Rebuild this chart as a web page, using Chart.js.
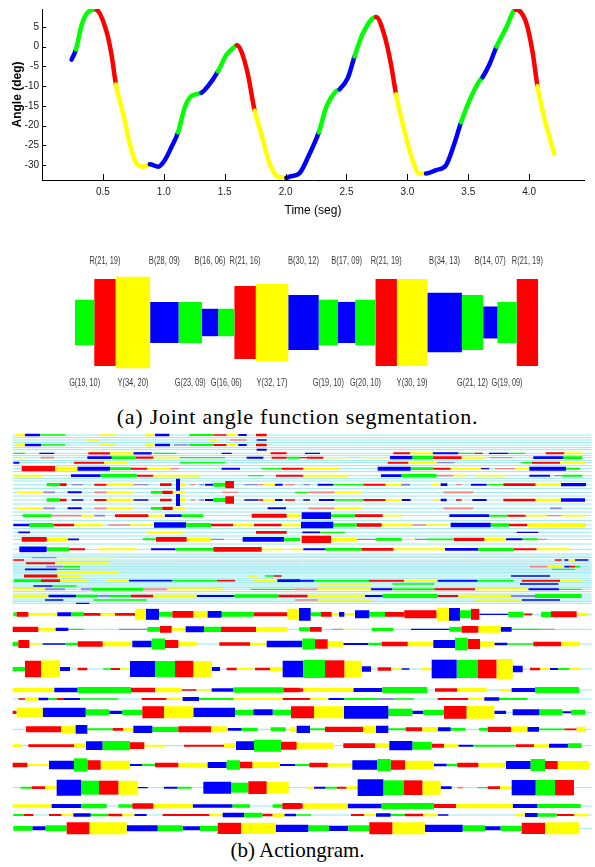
<!DOCTYPE html>
<html><head><meta charset="utf-8">
<script src="https://cdn.jsdelivr.net/npm/chart.js@4.4.1/dist/chart.umd.min.js"></script>
<style>
html,body{margin:0;padding:0;background:#fff;}
body{width:595px;height:867px;position:relative;overflow:hidden;}
canvas{position:absolute;left:0;}
#c1{top:0;} #c2{top:250px;} #c3{top:425px;}
.cap{position:absolute;left:0;width:595px;text-align:center;font-family:'Liberation Serif','Times New Roman',serif;font-size:21px;line-height:24px;color:#000;white-space:nowrap;}
</style></head><body>
<canvas id="c1" width="595" height="222"></canvas>
<canvas id="c2" width="595" height="150"></canvas>
<div class="cap" style="top:405px;font-size:22px;letter-spacing:0.75px">(a) Joint angle function segmentation.</div>
<canvas id="c3" width="595" height="412"></canvas>
<div class="cap" style="top:838px">(b) Actiongram.</div>
<script>
// ---------- (a) joint angle curve ----------
const timeSec = [0.243,0.279,0.325,0.366,0.434,0.45,0.53,0.571,0.607,0.667,0.721,0.776,0.83,0.885,0.954,1.008,1.063,1.117,1.172,1.227,1.309,1.363,1.445,1.514,1.582,1.6,1.637,1.691,1.746,1.8,1.869,1.937,2.006,2.033,2.115,2.197,2.273,2.333,2.415,2.443,2.511,2.566,2.634,2.743,2.811,2.866,2.907,2.975,3.043,3.098,3.153,3.235,3.317,3.385,3.44,3.508,3.59,3.617,3.672,3.732,3.809,3.89,3.973,4.027,4.068,4.123,4.205];
const angleDeg = [-3.3,-0.7,5.4,8.3,9.4,9.3,3.75,-2.1,-9.6,-17.1,-24.6,-29.6,-30.4,-29.75,-30.4,-28.75,-25.4,-21.7,-15.4,-12.5,-11.7,-10,-6.25,-2.1,0,0.3,-1.25,-7.1,-16.25,-22,-29.6,-32.9,-33.2,-32.9,-32,-27.1,-21.7,-15.4,-11.25,-10.8,-7.9,-2.5,3.3,7.5,2.9,-4.6,-12.1,-21.25,-28.75,-32.1,-32.1,-31.25,-30,-24.6,-19.2,-13.75,-8.75,-7.75,-4.6,0,4.6,9.4,6.25,-1.25,-10,-17.9,-27.1];
const angleSegClass = 'bggggrrryyyyybbbbgggbbgggrrryyyybbbbgggbbggrrryyyybbbbgggbbggrrryyy'.split('');
const xTickValues = [0.5,1,1.5,2,2.5,3,3.5,4];
const yTickValues = [-30,-25,-20,-15,-10,-5,0,5];

// ---------- (a) segmentation glyphs ----------
const segClass = ['G','R','Y','B','G','B','G','R','Y','B','G','B','G','R','Y','B','G','B','G','R'];
const segLength = [19,21,34,28,23,16,16,21,32,30,19,17,20,21,30,34,21,14,19,21];
const segAmplitude = [10,19,20,9,9,6,6,16,17,12,10,9,10,19,19,13,12,7,9,19];

// ---------- (b) actiongram: "row | first half | second half", segments "class start end amplitude" ----------
const HALF = 885;
const rowsUpper = [
"30|y 48 75 8, b 75 120 8, g 120 195 4, y 300 345 4, y 435 462 8, b 465 508 8, g 568 640 6, r 640 680 4, y 680 712 6, b 715 740 6, r 768 800 8|",
"45|y 258 300 4, y 625 660 4, p 690 740 4, b 770 800 5|",
"60|y 48 75 8, b 75 123 8, g 123 195 4, y 300 345 4, y 437 462 8, b 465 510 8, v 522 565 4, g 568 640 6, r 640 680 6, y 680 712 6, b 715 740 6, r 768 800 8|",
"74|y 258 300 4, b 770 800 6|",
"85|g 40 75 4, b 118 163 4, r 265 330 7, y 330 400 7, b 400 455 7, g 460 530 4, b 665 695 4, y 770 810 4, r 812 860 6|b 30 75 4, r 295 345 6, y 345 413 6, b 413 490 6, g 490 540 4, r 540 563 4, b 582 640 4, g 640 690 4, r 752 808 6, y 808 862 6",
"98|y 40 85 4, p 122 162 5, b 262 335 8, g 335 408 8, r 408 460 7, y 460 540 5, g 540 675 4, b 740 790 6, r 815 860 6, g 860 900 6|r 0 35 4, r 35 85 6, y 85 160 4, y 200 285 4, b 285 352 10, g 352 413 10, r 413 500 8, y 500 568 6, p 585 652 4, b 715 805 8, g 805 862 8",
"113|b 40 58 6, r 222 312 6, y 312 383 6, g 540 675 4|r 278 340 6, y 340 425 6, v 425 478 4, g 678 710 4, r 710 795 6, y 795 870 6",
"131|r 65 165 16, y 165 232 12, b 232 330 12, g 330 393 8, r 393 442 6, y 442 510 6, p 510 538 4, b 665 720 6, g 785 845 4, r 845 900 6|r 0 25 6, y 25 133 6, b 248 347 12, g 347 417 8, r 417 467 6, y 467 558 6, b 558 582 4, p 600 660 4, y 660 703 6, b 703 813 12, g 813 855 6",
"152|y 40 128 6, b 213 302 8, g 302 410 10, r 410 460 6, y 460 600 6, g 745 790 4, r 828 900 6|r 0 25 6, y 25 160 6, b 258 320 8, g 320 425 10, p 425 475 5, y 475 512 5, y 543 630 5, b 703 765 6, v 778 800 4, g 800 862 6"
];
const rowsMiddle = [
"179|g 140 180 10, r 180 200 8, v 215 250 4, r 283 320 6, y 320 400 8, v 400 445 4, r 480 515 8, b 528 540 36, y 540 555 10, p 572 585 4, v 598 612 4, b 615 640 6, g 640 678 12, r 676 702 22, v 733 775 4, p 775 790 4, y 790 825 6, b 825 848 6, p 855 885 4|v 25 45 4, b 68 115 6, g 115 205 4, r 205 272 6, y 272 318 6, v 318 345 6, y 410 437 4, b 437 457 8, p 483 500 4, b 528 575 6, g 575 625 4, r 625 722 8, y 722 798 8, b 798 873 10",
"202|y 50 128 5, v 130 165 5, b 203 245 6, p 283 320 5, y 320 400 5, g 453 487 8, r 487 518 10, y 518 555 6, p 665 715 4|g 0 40 4, p 40 118 5, y 118 200 5, p 445 535 5",
"225|g 140 180 10, r 180 200 8, b 215 250 4, r 283 320 6, y 320 400 8, b 400 445 4, r 480 515 8, b 528 540 36, y 540 555 10, p 572 585 4, v 598 612 4, b 615 640 6, g 640 678 12, r 676 702 22, b 733 775 4, r 775 790 4, y 790 825 6, b 825 848 6, r 855 885 4|b 25 45 4, b 72 118 6, g 118 205 4, r 205 272 6, y 272 320 6, b 320 347 6, y 415 437 4, b 437 455 8, r 483 500 4, b 532 575 6, r 625 722 8, y 722 798 8, b 798 870 10",
"250|y 50 128 5, v 130 165 5, b 203 245 6, p 283 320 5, y 320 400 5, g 453 487 8, r 487 518 10, y 518 555 6, b 803 858 6|p 40 118 5, y 118 200 5, p 445 535 5, v 765 800 5",
"272|g 68 155 8, p 155 245 5, y 245 280 6, v 283 315 5, r 345 445 8, y 445 493 6, b 495 545 8, g 545 610 8, r 755 860 12, y 860 900 8|y 0 20 5, b 20 108 20, g 108 180 8, r 180 263 8, y 263 322 5, b 463 582 8, g 582 637 6, r 637 692 6, y 692 755 5, p 755 800 4, y 800 870 5",
"300|b 40 87 8, g 87 160 12, r 160 222 8, y 222 308 8, p 325 390 5, y 390 460 5, b 462 558 16, g 558 633 12, r 633 700 8, y 700 762 8, r 762 845 8, y 845 900 8|y 0 18 8, b 18 115 20, g 115 185 10, r 185 260 10, y 260 352 8, p 352 393 5, y 393 463 5, b 467 587 14, g 587 642 10, r 642 697 8, y 697 873 12",
"322|b 55 90 5, y 440 550 4, r 768 860 8|b 22 75 5, g 75 150 4, b 665 730 4",
"343|r 65 140 14, y 140 203 10, b 203 237 5, g 428 468 6, r 468 560 14, y 560 632 10, v 632 672 4, b 728 852 14, g 852 900 10|r 20 108 22, y 108 185 10, v 185 243 4, g 243 320 8, y 345 360 4, v 360 395 4, g 395 477 5, r 477 568 10, y 568 633 8, b 633 683 6, g 683 728 6, p 728 755 4",
"373|b 58 140 17, g 140 207 12, r 207 255 6, y 295 410 6, b 453 525 6, g 525 640 8, r 640 785 14, y 785 850 5, y 875 900 5|y 0 25 5, b 25 92 6, g 92 200 8, r 200 295 8, y 295 450 6, b 450 550 8, g 550 657 10, r 657 725 6, y 725 825 6"
];
const rowsDense = [
"398|v 95 170 4, y 170 340 4|",
"405|r 40 72 4|r 780 800 5, b 808 820 5, y 820 840 5, b 840 880 4",
"415|r 78 165 6, y 165 328 6|",
"425|v 138 190 5, g 190 240 4|p 705 757 5, y 757 808 5, b 808 822 5, r 822 840 5, g 840 855 5",
"433|b 75 170 5, g 170 240 4|g 772 840 4",
"442|y 170 355 5|",
"453|r 72 172 9, y 172 245 6, y 745 775 4, g 795 820 4, r 820 845 4|b 648 765 5",
"467|g 42 123 8, r 123 180 8, y 180 265 8, y 318 385 5, b 387 517 5, g 517 650 5, r 650 705 5, y 760 830 5, b 832 900 8|b 0 58 6, g 58 222 6, r 222 327 6, y 327 428 5, b 428 548 6, g 548 655 5, r 680 795 6, y 795 862 5",
"477||y 70 228 4, g 292 418 4, b 675 790 4",
"483|b 100 158 4, g 158 230 4|",
"493|y 40 135 6, v 135 195 6, v 243 275 6, g 275 430 8, p 430 502 6, y 502 668 6, g 752 880 4, p 880 900 4|p 0 68 5, y 68 228 6, b 228 292 6, g 292 418 6, r 418 540 6, y 540 700 6, b 700 792 6, g 792 860 4",
"513|y 40 145 8, b 145 228 8, g 228 295 8, v 295 330 6, g 330 393 6, r 393 460 8, y 460 590 8, b 590 703 6, g 703 835 10, r 835 900 8|r 0 38 8, y 38 210 8, b 210 263 6, g 263 428 12, r 428 490 6, y 490 648 8, v 648 720 6, g 720 860 12",
"525|b 135 190 4, g 280 440 4|p 0 70 4, y 70 230 4, y 540 680 4, b 680 795 4",
"535|b 228 268 4|"
];
const rowsLower = [
"568|g 40 50 12, r 50 85 14, y 85 172 8, b 172 213 12, g 213 252 12, r 252 302 8, y 302 345 8, r 345 405 8, y 405 438 33, b 438 477 33, g 477 517 14, r 517 580 20, y 580 623 20, b 623 665 20, g 665 762 14, r 762 862 12, y 862 900 33|y 0 12 33, b 12 47 38, g 47 78 12, r 78 110 14, y 110 132 8, b 132 148 14, y 148 180 8, b 180 223 24, g 223 270 14, r 270 328 14, r 328 425 24, y 425 462 38, b 462 495 38, g 495 528 24, r 528 553 33, b 553 640 4, g 640 685 16, r 685 712 5, g 738 768 16, r 768 845 18, y 845 880 10",
"613|r 38 115 16, y 115 167 8, b 167 205 10, g 205 252 4, v 357 442 4, g 442 480 14, r 480 515 20, y 515 557 8, b 557 612 18, g 612 663 16, r 663 768 16, y 768 862 14|g 12 45 12, r 45 80 14, p 110 145 4, y 145 178 4, g 230 295 10, b 348 463 4, g 463 500 14, r 500 550 20, y 550 617 20, b 617 650 14, g 650 740 4, p 740 780 4",
"657|g 38 55 14, r 55 88 24, y 88 128 5, b 128 197 5, g 197 233 8, r 233 308 16, y 308 397 14, b 397 455 20, g 455 495 33, r 495 535 24, y 535 590 14, r 658 750 10, y 750 800 8, b 800 900 20|b 0 22 20, g 22 60 33, r 60 98 28, y 98 145 16, b 145 220 6, g 220 260 8, r 260 338 14, y 338 415 14, b 415 480 24, g 480 518 38, r 518 555 30, y 555 598 16, b 598 637 8, g 637 715 4, r 715 798 14, y 798 855 14",
"732|g 38 75 12, r 75 123 50, y 123 180 52, b 180 210 12, r 233 262 8, g 310 333 4, r 333 360 6, y 360 390 5, b 390 465 48, g 465 525 48, r 525 580 50, y 580 635 48, b 635 660 12, r 680 710 8, y 710 760 6, r 765 810 8, y 810 848 12, b 848 900 50|b 0 25 50, g 25 90 54, r 90 148 52, y 148 200 50, b 200 228 16, r 248 288 10, y 288 320 5, b 320 343 5, y 380 410 8, b 410 485 56, g 485 548 54, r 548 605 56, y 605 653 60, b 653 683 20, r 705 735 8, y 735 762 6, b 765 790 6, g 790 822 6, y 825 857 6",
"795|y 38 163 14, b 163 233 14, g 233 393 18, r 393 465 14, y 465 545 14, r 545 590 5, y 590 635 5, b 635 700 10, g 700 850 16, r 850 900 14|r 0 25 10, y 25 175 12, b 175 262 12, g 262 397 18, r 420 487 10, y 487 575 12, y 612 650 6, b 650 720 12, g 720 852 18",
"822|r 55 75 5, y 75 115 10, b 115 145 8, g 145 170 6, r 170 190 6, b 190 240 6, g 240 355 4, r 425 500 6, y 500 548 6, b 548 597 12, g 597 700 6, y 700 848 6, r 848 900 6|r 0 45 6, y 45 100 6, b 100 147 6, g 147 248 6, v 248 298 6, g 298 357 4, r 428 520 6, y 520 568 6, b 568 613 10, g 613 697 6",
"862|r 38 50 10, y 50 128 28, b 128 257 28, g 257 328 18, b 328 367 10, g 367 427 16, r 427 492 36, y 492 580 36, b 580 705 28, g 705 760 16, b 760 818 18, g 818 873 16, r 873 900 36|r 0 57 36, y 57 147 36, b 147 280 38, g 280 352 22, b 352 385 10, g 385 447 16, r 447 515 38, y 515 598 38, b 598 633 10, b 653 733 18, g 733 802 18, b 802 828 6, g 828 870 14",
"913|r 78 183 18, y 183 227 22, b 227 262 26, g 262 338 6, r 338 370 8, y 370 400 8, b 400 457 22, g 457 535 16, r 535 633 18, y 633 683 18, b 683 725 8, g 725 773 10, g 812 857 12, y 870 890 16, b 890 900 22|b 8 45 22, g 45 90 6, r 90 205 16, y 205 243 20, b 243 280 22, g 280 332 6, r 332 382 12, y 382 428 14, b 428 467 12, g 467 510 8, g 552 578 8, r 578 648 16, y 648 697 18, b 697 732 14, g 732 808 5, r 808 845 5, y 845 873 16",
"962|y 38 65 8, r 85 222 8, y 222 258 14, b 258 308 26, g 308 390 28, r 390 433 20, y 433 498 6, r 552 672 6, y 672 708 14, b 708 762 26, g 762 843 36, r 843 888 24, y 888 900 20|r 0 5 20, y 5 115 18, r 145 240 14, y 240 283 14, b 283 352 28, g 352 410 24, r 410 447 12, y 447 490 8, b 490 535 6, g 535 663 6, r 663 717 8, y 717 762 8, b 762 820 12, g 820 860 14",
"1020|r 38 82 14, y 82 147 6, b 147 222 26, g 222 262 40, r 262 302 28, y 302 390 26, b 390 427 6, g 427 465 6, r 465 535 14, y 535 623 14, b 623 680 18, g 680 720 28, r 720 757 20, y 757 840 18, b 840 885 6, g 885 900 6|g 0 43 6, r 43 98 14, y 98 172 10, b 172 247 28, g 247 287 36, r 287 330 28, y 330 417 26, b 417 455 8, g 455 487 8, r 487 550 14, y 550 633 14, b 633 707 24, g 707 750 36, r 750 788 24, y 788 883 24",
"1088|g 62 95 6, r 95 135 8, y 135 170 10, b 170 243 48, g 243 297 42, r 297 355 42, y 355 413 42, b 413 443 4, b 492 533 6, g 533 575 6, b 610 693 36, g 693 745 30, r 745 800 38, y 800 866 34|y 35 57 6, b 57 92 6, g 92 125 6, r 125 155 6, y 155 188 8, b 188 265 50, g 265 327 44, r 327 382 44, y 382 437 42, b 437 470 8, p 487 505 5, g 548 578 4, r 578 615 8, y 615 650 8, b 650 722 46, g 722 780 46, r 780 837 46",
"1143|y 38 155 10, b 155 243 12, g 243 320 14, g 355 397 10, r 397 460 16, y 460 578 14, b 578 697 10, g 697 750 10, g 818 847 10, r 847 900 18|r 0 23 16, y 23 158 16, b 158 260 14, g 260 417 18, r 417 483 12, y 483 653 14, b 653 727 12, g 727 857 12",
"1170|g 40 72 6, r 72 100 6, r 147 185 6, y 185 220 6, b 220 272 10, g 272 325 8, r 325 367 8, y 367 403 8, b 403 440 6, r 488 628 6, y 628 668 8, b 668 732 14, g 732 787 14, r 787 818 8, y 818 853 12, b 853 888 8|g 0 48 4, r 168 208 6, y 208 243 6, b 243 287 10, g 287 330 6, r 330 385 8, y 385 428 8, b 428 460 4, y 660 690 8, b 690 728 12, g 728 785 10, r 785 838 6, y 838 880 8",
"1210|g 40 97 14, b 97 137 12, g 137 200 18, r 200 268 36, y 268 380 36, b 380 473 18, g 473 548 18, b 548 600 12, g 600 653 16, r 653 723 34, y 723 827 34, b 827 900 22|b 0 40 22, g 40 102 18, b 102 160 16, g 160 223 18, r 223 292 36, y 292 390 36, b 390 503 22, g 503 570 18, b 570 617 12, g 617 680 16, r 680 750 34, y 750 852 36"
];
const baselineRows = [30,38,45,53,60,68,74,85,92,98,106,113,122,131,140,152,160,168,179,190,202,213,225,237,250,261,272,286,300,311,322,333,343,357,373,387,393,398,405,410,415,420,425,429,433,438,442,447,453,460,467,472,477,483,488,493,500,507,513,519,525,530,535,568,613,657,732,795,822,862,913,962,1020,1088,1143,1170,1210];
const sequenceSpan = [38, 1775];

// ---------- styling ----------
const COLORS = {r:'#ff0000', y:'#ffff00', b:'#0000ff', g:'#00ff00', p:'#f08585', v:'#8585ee',
                R:'#ff0000', Y:'#ffff00', B:'#0000ff', G:'#00ff00'};
const SANS = "'Liberation Sans',Arial,sans-serif";
const common = {responsive:false, animation:false, devicePixelRatio:1, events:[],
  plugins:{legend:{display:false}, tooltip:{enabled:false}}};
const pxThickness = h => ctx => {
  const s = ctx.chart.scales && ctx.chart.scales.y;
  if (!s) return 1;
  return Math.max(1, Math.abs(s.getPixelForValue(h) - s.getPixelForValue(0)));
};

// ---------- chart 1 ----------
const inwardTicks = {id:'inwardTicks', afterDraw(chart){
  const {ctx, chartArea:a, scales:{x, y}} = chart;
  ctx.save(); ctx.strokeStyle = '#000'; ctx.lineWidth = 1; ctx.beginPath();
  xTickValues.forEach(v => { const p = Math.round(x.getPixelForValue(v)) + 0.5; ctx.moveTo(p, a.bottom); ctx.lineTo(p, a.bottom - 6); });
  yTickValues.forEach(v => { const p = Math.round(y.getPixelForValue(v)) + 0.5; ctx.moveTo(a.left, p); ctx.lineTo(a.left + 4, p); });
  ctx.stroke(); ctx.restore();
}};
new Chart(document.getElementById('c1'), {
  type:'line',
  data:{datasets:[{
    data: timeSec.map((t,i)=>({x:t, y:angleDeg[i]})),
    borderWidth:4.5, pointRadius:0, pointHoverRadius:0,
    cubicInterpolationMode:'monotone', borderColor:COLORS.b, borderCapStyle:'round',
    segment:{borderColor: c => COLORS[angleSegClass[c.p0DataIndex]]}
  }]},
  options:Object.assign({}, common, {
    layout:{padding:{top:7, right:11, left:0, bottom:0}},
    scales:{
      x:{type:'linear', min:0, max:4.45,
        afterBuildTicks:s=>{ s.ticks = xTickValues.map(v=>({value:v})); },
        afterFit:s=>{ s.height = 42; },
        grid:{display:true, drawOnChartArea:false, drawTicks:false},
        border:{display:true, color:'#000', width:1},
        ticks:{padding:6, color:'#222', autoSkip:false, maxRotation:0, font:{family:SANS, size:10}},
        title:{display:true, text:'Time (seg)', color:'#000', font:{family:SANS, size:12}, padding:{top:0, bottom:4}}},
      y:{type:'linear', min:-33.75, max:9.5,
        afterBuildTicks:s=>{ s.ticks = yTickValues.map(v=>({value:v})); },
        afterFit:s=>{ s.width = 42; },
        grid:{display:true, drawOnChartArea:false, drawTicks:false},
        border:{display:true, color:'#000', width:1},
        ticks:{padding:3, color:'#222', autoSkip:false, font:{family:SANS, size:10}},
        title:{display:true, text:'Angle (deg)', color:'#000', font:{family:SANS, size:12, weight:'bold'}, padding:{top:10, bottom:0}}}
    }
  }),
  plugins:[inwardTicks]
});

// ---------- chart 2 ----------
const segStart = [];
segLength.reduce((acc, w) => { segStart.push(acc); return acc + w; }, 0);
const segText = i => `${segClass[i]}(${segLength[i]}, ${String(segAmplitude[i]).padStart(2,'0')})`;
const segLabels = {id:'segLabels', afterDatasetsDraw(chart){
  const {ctx, scales:{x, y}} = chart;
  ctx.save(); ctx.font = `10px ${SANS}`; ctx.fillStyle = '#3a3a3a';
  ctx.textAlign = 'center'; ctx.textBaseline = 'middle';
  segClass.forEach((c,i) => {
    const cx = x.getPixelForValue(segStart[i] + segLength[i]/2);
    const up = (c === 'R' || c === 'B');
    ctx.fillText(segText(i), cx, y.getPixelForValue(up ? 13.3 : -13.3), 31);
  });
  ctx.restore();
}};
new Chart(document.getElementById('c2'), {
  type:'line',
  data:{datasets: segClass.map((c,i)=>({
    data:[{x:segStart[i], y:0}, {x:segStart[i]+segLength[i], y:0}],
    borderColor:COLORS[c], borderWidth:pxThickness(segAmplitude[i]), borderCapStyle:'butt',
    pointRadius:0, pointHoverRadius:0, clip:false
  }))},
  options:Object.assign({}, common, {
    layout:{padding:0},
    scales:{x:{type:'linear', display:false, min:-73.86, max:512.1},
            y:{type:'linear', display:false, min:-16.96, max:15.86}}
  }),
  plugins:[segLabels]
});

// ---------- chart 3 ----------
function parseRows(list){
  const out = [];
  list.forEach(str => {
    const parts = str.split('|');
    const row = +parts[0];
    [[parts[1]||'', 0], [parts[2]||'', HALF]].forEach(([txt, off]) => {
      txt.split(',').map(s=>s.trim()).filter(Boolean).forEach(s => {
        const [c,a,b,h] = s.split(/\s+/);
        out.push({row, c, x0:+a+off, x1:+b+off, h:+h});
      });
    });
  });
  return out;
}
const allSegs = [].concat(parseRows(rowsUpper), parseRows(rowsMiddle), parseRows(rowsDense), parseRows(rowsLower));
const groups = new Map();
allSegs.forEach(s => {
  const k = s.c + '_' + s.h;
  if (!groups.has(k)) groups.set(k, {c:s.c, h:s.h, data:[]});
  groups.get(k).data.push({x:s.x0, y:s.row}, {x:s.x1, y:s.row}, {x:s.x1, y:null});
});
const actionSets = [];
groups.forEach(g => actionSets.push({
  data:g.data, borderColor:COLORS[g.c], borderWidth:pxThickness(g.h), borderCapStyle:'butt',
  pointRadius:0, pointHoverRadius:0, spanGaps:false, order:1000 - g.h
}));
const baseData = [];
baselineRows.forEach(r => baseData.push({x:sequenceSpan[0], y:r}, {x:sequenceSpan[1], y:r}, {x:sequenceSpan[1], y:null}));
actionSets.push({data:baseData, borderColor:'rgb(150,232,238)', borderWidth:1, pointRadius:0, pointHoverRadius:0, spanGaps:false, order:5000});
new Chart(document.getElementById('c3'), {
  type:'line',
  data:{datasets:actionSets},
  options:Object.assign({}, common, {
    layout:{padding:0},
    scales:{x:{type:'linear', display:false, min:0, max:1785},
            y:{type:'linear', display:false, min:0, max:1236, reverse:true}}
  })
});
</script>
</body></html>
